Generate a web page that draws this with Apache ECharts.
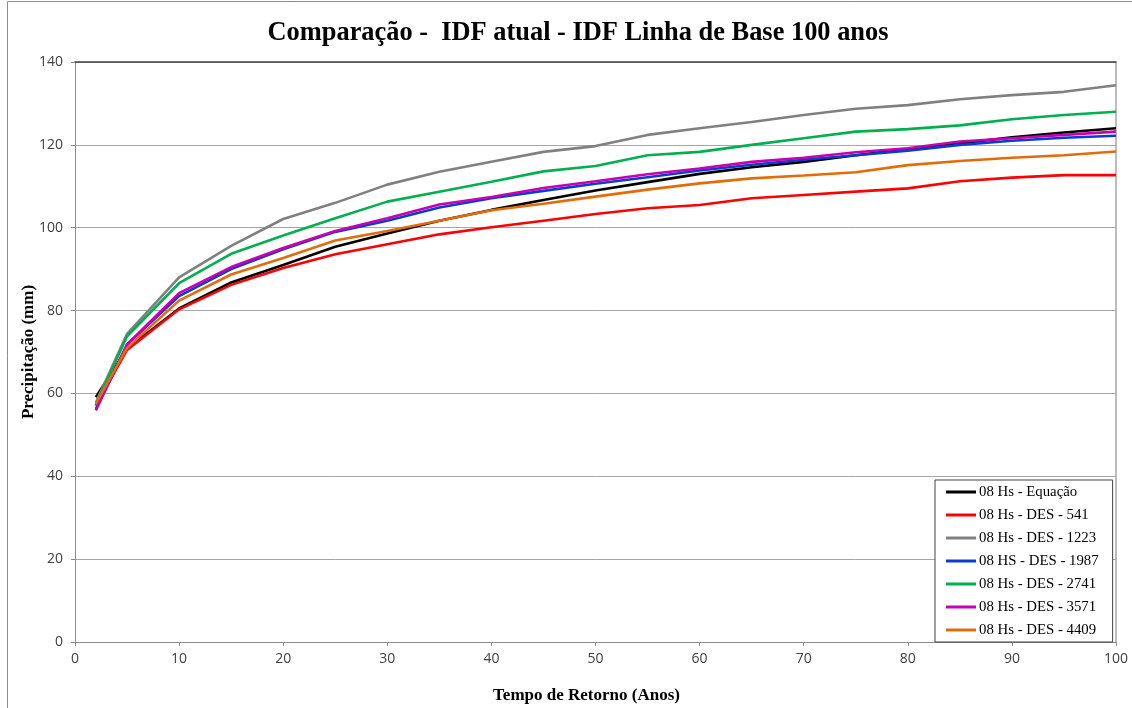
<!DOCTYPE html>
<html>
<head>
<meta charset="utf-8">
<script src="https://cdn.jsdelivr.net/npm/echarts@6/dist/echarts.min.js"></script>
<style>
html,body{margin:0;padding:0;background:#fff;}
#chart{width:1132px;height:708px;}
</style>
</head>
<body>
<div id="chart"></div>
<script>
const returnPeriods = [2,5,10,15,20,25,30,35,40,45,50,55,60,65,70,75,80,85,90,95,100];
const seriesNames = ['08 Hs - Equação','08 Hs - DES - 541','08 Hs - DES - 1223','08 HS - DES - 1987','08 Hs - DES - 2741','08 Hs - DES - 3571','08 Hs - DES - 4409'];
const equacao = [59.1,70.8,80.5,86.8,91.0,95.4,98.6,101.7,104.3,106.7,109.0,111.0,113.0,114.6,115.9,117.5,119.0,120.4,121.8,123.0,124.0];
const des541  = [57.0,70.5,80.3,86.2,90.3,93.6,96.0,98.4,100.1,101.7,103.3,104.7,105.5,107.1,107.9,108.7,109.5,111.2,112.1,112.7,112.7];
const des1223 = [57.8,74.4,88.0,95.6,102.1,106.0,110.4,113.5,115.9,118.3,119.7,122.4,124.0,125.5,127.2,128.7,129.6,131.0,132.0,132.8,134.4];
const des1987 = [56.2,71.8,83.5,90.0,94.8,99.0,101.7,104.9,107.1,108.9,110.6,112.2,113.8,115.2,116.4,117.5,118.6,120.0,121.0,121.7,122.2];
const des2741 = [57.2,73.8,86.6,93.7,98.1,102.3,106.3,108.7,111.1,113.6,114.9,117.5,118.3,120.0,121.6,123.2,123.8,124.7,126.2,127.2,128.0];
const des3571 = [55.9,71.8,84.2,90.5,95.1,99.2,102.3,105.6,107.4,109.6,111.2,112.9,114.3,115.9,116.9,118.2,119.2,120.8,121.6,122.4,123.2];
const des4409 = [57.5,71.0,82.4,88.7,92.7,96.9,99.2,101.7,104.2,105.8,107.5,109.2,110.7,111.9,112.6,113.4,115.1,116.1,116.9,117.5,118.4];
const seriesValues = [equacao, des541, des1223, des1987, des2741, des3571, des4409];
const seriesColors = ['#000000','#FF0000','#808080','#0A3DCC','#00B050','#C800B4','#E36C0A'];
const xTicks = {min:0, max:100, interval:10};
const yTicks = {min:0, max:140, interval:20};

const chart = echarts.init(document.getElementById('chart'), null, {renderer:'canvas'});
const tickFont = {fontFamily:'"Open Sans", "Liberation Sans", sans-serif', fontSize:14, color:'#404040'};
const serif = '"Liberation Serif", "Times New Roman", serif';

const series = seriesNames.map((name, i) => ({
  name: name,
  type: 'line',
  data: returnPeriods.map((t, j) => [t, seriesValues[i][j]]),
  showSymbol: false,
  symbol: 'none',
  lineStyle: {color: seriesColors[i], width: 2.6},
  itemStyle: {color: seriesColors[i]},
  emphasis: {disabled: true},
  animation: false,
  z: 2 + i
}));

chart.setOption({
  animation: false,
  backgroundColor: '#ffffff',
  title: {
    text: 'Comparação -  IDF atual - IDF Linha de Base 100 anos',
    left: 573,
    textAlign: 'center',
    top: 15,
    textStyle: {fontFamily: serif, fontWeight: 'bold', fontSize: 26.4, color: '#000'}
  },
  graphic: [{
    type: 'rect',
    shape: {x: 7.5, y: 1.5, width: 1140, height: 740},
    style: {fill: 'none', stroke: '#8c8c8c', lineWidth: 1},
    silent: true, z: 0
  }],
  grid: {left: 75, right: 16, top: 62, bottom: 66, containLabel: false, outerBoundsMode: 'none'},
  legend: {
    orient: 'vertical',
    left: 935,
    top: 480,
    data: seriesNames,
    icon: 'rect',
    itemWidth: 30,
    itemHeight: 3,
    itemGap: 7,
    padding: [4, 14, 4, 11],
    backgroundColor: '#ffffff',
    borderColor: '#404040',
    borderWidth: 1,
    textStyle: {fontFamily: serif, fontSize: 14.8, color: '#000', lineHeight: 16, padding: [0,0,0,-2]}
  },
  xAxis: [{
    type: 'value',
    min: xTicks.min, max: xTicks.max, interval: xTicks.interval,
    name: 'Tempo de Retorno (Anos)',
    nameLocation: 'middle',
    nameGap: 45,
    nameMoveOverlap: false,
    nameTextStyle: {fontFamily: serif, fontWeight: 'bold', fontSize: 17, color: '#000', padding: [0, 18, 0, 0]},
    axisLine: {show: true, onZero: false, lineStyle: {color: '#8c8c8c', width: 1}},
    axisTick: {show: true, length: 4, lineStyle: {color: '#8c8c8c'}},
    axisLabel: Object.assign({margin: 10}, tickFont),
    splitLine: {show: false}
  }, {
    type: 'value', position: 'top',
    min: xTicks.min, max: xTicks.max, interval: xTicks.interval,
    axisLine: {show: true, onZero: false, lineStyle: {color: '#404040', width: 1.5}},
    axisTick: {show: false}, axisLabel: {show: false}, splitLine: {show: false}
  }],
  yAxis: [{
    type: 'value',
    min: yTicks.min, max: yTicks.max, interval: yTicks.interval,
    name: 'Precipitação (mm)',
    nameLocation: 'middle',
    nameGap: 38,
    nameMoveOverlap: false,
    nameRotate: 90,
    nameTextStyle: {fontFamily: serif, fontWeight: 'bold', fontSize: 17, color: '#000'},
    axisLine: {show: true, onZero: false, lineStyle: {color: '#8c8c8c', width: 1}},
    axisTick: {show: true, length: 4, lineStyle: {color: '#8c8c8c'}},
    axisLabel: Object.assign({margin: 12}, tickFont),
    splitLine: {show: true, lineStyle: {color: '#a6a6a6', width: 1}}
  }, {
    type: 'value', position: 'right',
    min: yTicks.min, max: yTicks.max, interval: yTicks.interval,
    axisLine: {show: true, onZero: false, lineStyle: {color: '#a6a6a6', width: 1.5}},
    axisTick: {show: false}, axisLabel: {show: false}, splitLine: {show: false}
  }],
  series: series
});
</script>
</body>
</html>
